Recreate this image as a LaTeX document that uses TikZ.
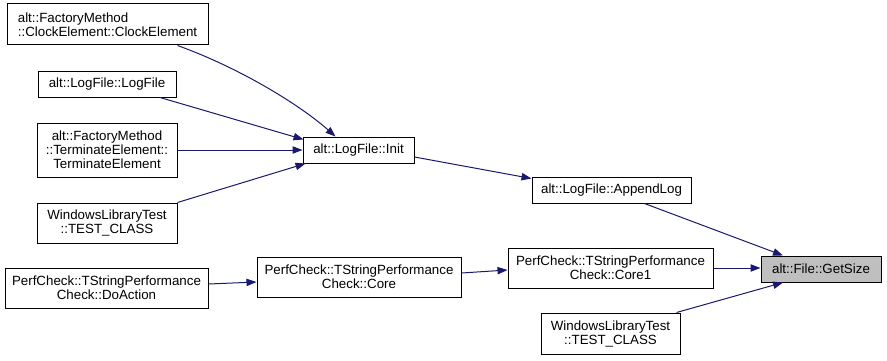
\documentclass[tikz,border=0pt]{standalone}
\usepackage{fontspec}
\setmainfont{Liberation Sans}
\usetikzlibrary{arrows.meta,calc}
\definecolor{edgeblue}{HTML}{191970}
\definecolor{curgray}{HTML}{BFBFBF}
\begin{document}
\begin{tikzpicture}[x=0.75pt,y=-0.75pt,
    fn/.style={draw,fill=white,line width=0.75pt,inner sep=0pt,align=center,
      font=\fontsize{10}{10.5}\selectfont},
    sz/.style 2 args={minimum width=#1*0.75pt,minimum height=#2*0.75pt},
    call/.style={edgeblue,line width=0.75pt,-{Triangle[length=7.5pt,width=5.5pt]}}]
    \useasboundingbox (0,0) rectangle (887,360);
    % callers of Init
    \node[fn,sz={201}{41},align=left] (clock) at (107.5,24.5) {alt::FactoryMethod\\::ClockElement::ClockElement};
    \node[fn,sz={138}{26}] (logfile) at (107,84) {alt::LogFile::LogFile};
    \node[fn,sz={140}{54}] (term) at (107,150) {alt::FactoryMethod\\::TerminateElement::\\TerminateElement};
    \node[fn,sz={140}{40}] (wltA) at (107,223) {WindowsLibraryTest\\::TEST\_CLASS};
    % log chain
    \node[fn,sz={111}{26}] (init) at (358.5,150) {alt::LogFile::Init};
    \node[fn,sz={159}{26}] (append) at (611.5,190) {alt::LogFile::AppendLog};
    % perf chain
    \node[fn,sz={203}{40}] (doaction) at (106.5,288) {PerfCheck::TStringPerformance\\Check::DoAction};
    \node[fn,sz={204}{40}] (core) at (359,277) {PerfCheck::TStringPerformance\\Check::Core};
    \node[fn,sz={205}{40}] (core1) at (610.5,268) {PerfCheck::TStringPerformance\\Check::Core1};
    \node[fn,sz={139}{41}] (wltB) at (610.5,333.5) {WindowsLibraryTest\\::TEST\_CLASS};
    % the function itself
    \node[fn,sz={120}{26},fill=curgray] (getsize) at (821,269) {alt::File::GetSize};
    % calls
    \draw[call] ($(clock.south)+(70,0)$) .. controls (240,68) and (300,105) .. ($(init.north)+(-23,0)$);
    \draw[call] ($(logfile.south)+(53,0)$) -- ($(init.north west)+(1,3)$);
    \draw[call] (term.east) -- (init.west);
    \draw[call] (wltA.north east) -- ($(init.south west)+(3,0)$);
    \draw[call] ($(init.east)+(0,7)$) -- ($(append.north west)+(0,2)$);
    \draw[call] ($(append.south)+(33,0)$) -- ($(getsize.north)+(-38,0)$);
    \draw[call] (doaction.east |- 0,284) -- (core.west |- 0,282);
    \draw[call] (core.east |- 0,273) -- (core1.west |- 0,270);
    \draw[call] (core1.east) -- (core1.east -| getsize.west);
    \draw[call] ($(wltB.north)+(66,0)$) -- ($(getsize.south)+(-38,0)$);
\end{tikzpicture}
\end{document}
